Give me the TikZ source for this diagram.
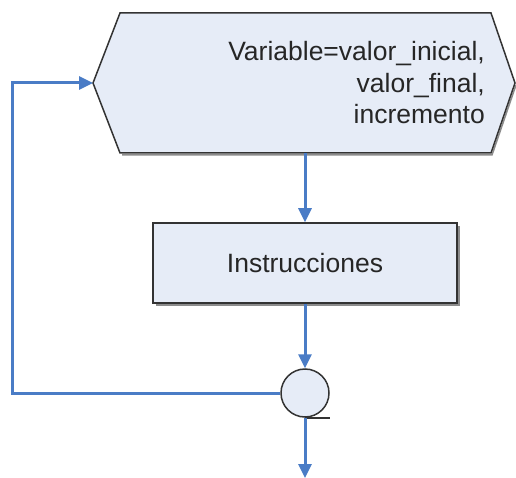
\documentclass[tikz,border=0pt]{standalone}
\usepackage{fontspec}
\setmainfont{Liberation Sans}
\usetikzlibrary{arrows.meta}
\definecolor{flowblue}{HTML}{4A7CC6}
\definecolor{boxfill}{HTML}{E6ECF7}
\tikzset{
  flow/.style={draw=flowblue, line width=3bp, -{Triangle[length=14bp,width=13bp]}},
  shapebox/.style={draw=black!80, fill=boxfill, line width=1.5bp},
  lbl/.style={font=\fontsize{26.5bp}{31.5bp}\selectfont, text=black!85}
}
\begin{document}
\begin{tikzpicture}[x=1bp, y=-1bp]
    \useasboundingbox (0,0) rectangle (516,478);
    % loop header
    \draw[draw=black!45, line width=1.5bp] (122,155) -- (492,155) -- (516,85);
    \draw[shapebox] (93,83) -- (120,13) -- (491,13) -- (515,83) -- (491,153) -- (120,153) -- cycle;
    \coordinate (hexleft) at (93,83);
    \coordinate (hexbot) at (305,153);
    \node[lbl, anchor=east, align=right, inner sep=0] (params) at (485,83) {Variable=valor\_inicial,\\valor\_final,\\incremento};
    % body
    \fill[black!45] (156,226) rectangle (460,306);
    \node[shapebox, lbl, minimum width=304bp, minimum height=80bp, inner sep=0] (instr) at (305,263) {Instrucciones};
    % connector
    \node[shapebox, circle, minimum size=48bp, inner sep=0] (merge) at (305,393) {};
    \draw[draw=black!80, line width=1.5bp] (merge.south) -- ++(25,0);
    \coordinate (corner) at (12,83);
    \coordinate (out) at (305,478);
    \draw[flow] (hexbot) -- (instr.north);
    \draw[flow] (instr.south) -- (merge.north);
    \draw[flow] (merge.west) -| (corner) -- (hexleft);
    \draw[flow] (merge.south) -- (out);
\end{tikzpicture}
\end{document}
